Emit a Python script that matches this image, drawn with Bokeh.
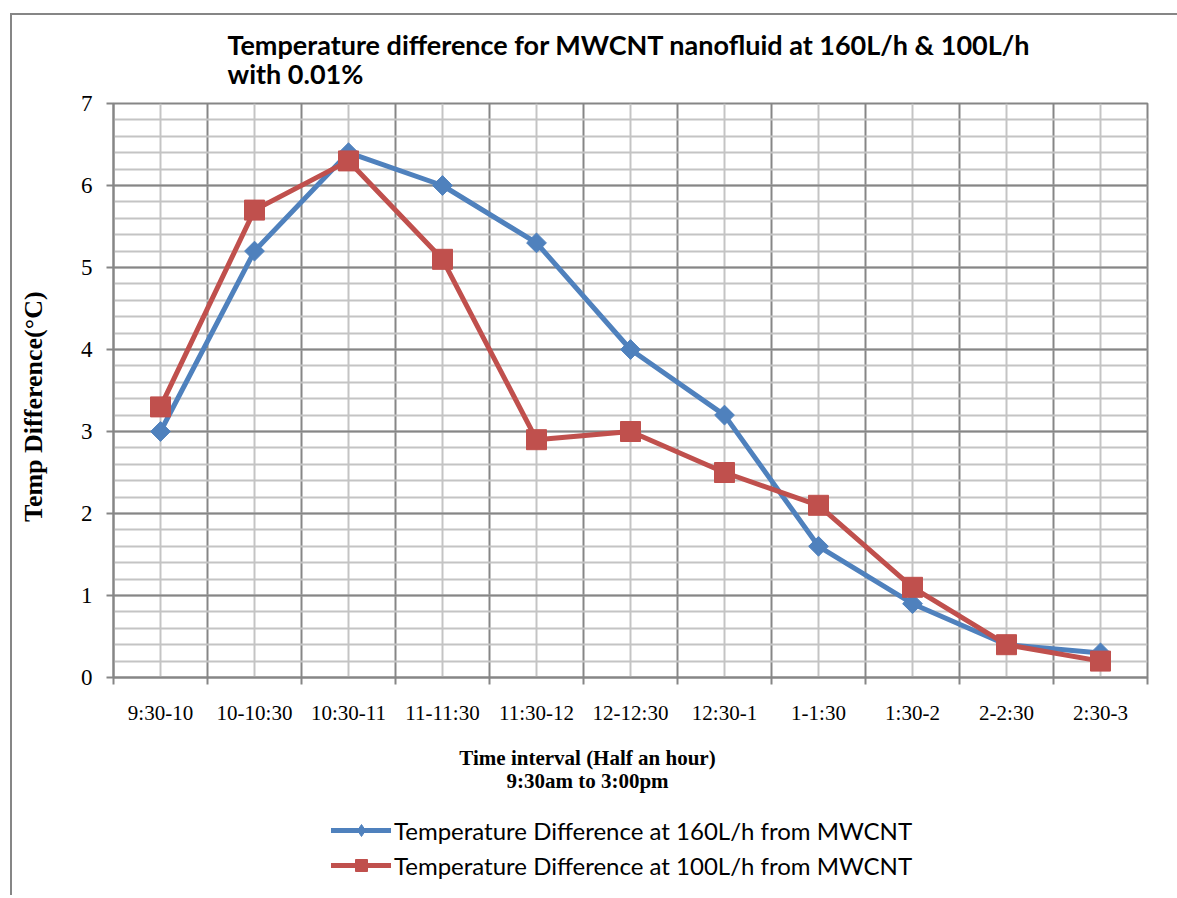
from bokeh.plotting import figure
from bokeh.models import FixedTicker, Legend, LegendItem, Range1d, Label
from bokeh.layouts import column
from bokeh.embed import file_html
from bokeh.resources import INLINE
import numpy as np

categories = ["9:30-10", "10-10:30", "10:30-11", "11-11:30", "11:30-12", "12-12:30",
              "12:30-1", "1-1:30", "1:30-2", "2-2:30", "2:30-3"]
flow160 = [3.0, 5.2, 6.4, 6.0, 5.3, 4.0, 3.2, 1.6, 0.9, 0.4, 0.3]
flow100 = [3.3, 5.7, 6.3, 5.1, 2.9, 3.0, 2.5, 2.1, 1.1, 0.4, 0.2]
y_ticks = [0, 1, 2, 3, 4, 5, 6, 7]
labels = ["Temperature Difference at 160L/h from MWCNT", "Temperature Difference at 100L/h from MWCNT"]
title_lines = ["Temperature difference for MWCNT nanofluid at 160L/h & 100L/h", "with 0.01%"]
xtitle_lines = ["Time interval (Half an hour)", "9:30am to 3:00pm"]
ytitle = "Temp Difference(°C)"

BLUE = "#4F81BD"
RED = "#C0504D"
MAJOR = "#868686"
MINOR = "#C4C4C4"

n = len(categories)
xc = [i + 0.5 for i in range(n)]


def blank(height):
    f = figure(width=1165, height=height, output_backend="svg", toolbar_location=None,
               x_range=Range1d(1000, 1001), y_range=Range1d(1000, 1001),
               min_border_left=0, min_border_right=0, min_border_top=0, min_border_bottom=0)
    f.axis.visible = False
    f.grid.visible = False
    f.outline_line_color = None
    return f


# ---- title strip ----
tp = blank(75)
for txt, yy in zip(title_lines, [46, 17]):
    tp.add_layout(Label(x=114, y=yy, x_units="screen", y_units="screen", text=txt,
                        text_font="Lato", text_font_style="bold", text_font_size="27px",
                        text_color="black", text_baseline="middle", text_align="left"))

# ---- main chart ----
p = figure(width=1165, height=637, output_backend="svg", toolbar_location=None,
           x_range=Range1d(0, n), y_range=Range1d(0, 7),
           min_border_left=101, min_border_right=30, min_border_top=13, min_border_bottom=50)
p.outline_line_color = MAJOR
p.outline_line_width = 2

p.xaxis.ticker = FixedTicker(ticks=xc, minor_ticks=list(range(n + 1)))
p.xaxis.major_label_overrides = {x: c for x, c in zip(xc, categories)}
p.xaxis.major_tick_out = 0
p.xaxis.major_tick_in = 0
p.xaxis.minor_tick_out = 7
p.xaxis.minor_tick_in = 0
p.xaxis.minor_tick_line_color = MAJOR
p.xaxis.minor_tick_line_width = 2
p.xaxis.axis_line_color = MAJOR
p.xaxis.axis_line_width = 2
p.xaxis.major_label_text_font = "Liberation Serif"
p.xaxis.major_label_text_font_size = "21px"
p.xaxis.major_label_text_color = "black"
p.xaxis.major_label_standoff = 16

p.yaxis.ticker = FixedTicker(ticks=y_ticks, minor_ticks=list(np.round(np.arange(0, 7.01, 0.2), 2)))
p.yaxis.major_tick_out = 7
p.yaxis.major_tick_in = 0
p.yaxis.minor_tick_out = 0
p.yaxis.minor_tick_in = 0
p.yaxis.major_tick_line_color = MAJOR
p.yaxis.major_tick_line_width = 2
p.yaxis.axis_line_color = MAJOR
p.yaxis.axis_line_width = 2
p.yaxis.major_label_text_font = "Liberation Serif"
p.yaxis.major_label_text_font_size = "23px"
p.yaxis.major_label_text_color = "black"
p.yaxis.major_label_standoff = 14
# trailing no-break spaces shift the visible title slightly below centre, as in the reference
p.yaxis.axis_label = ytitle + "\u00a0" * 5
p.yaxis.axis_label_text_font = "Liberation Serif"
p.yaxis.axis_label_text_font_style = "bold"
p.yaxis.axis_label_text_font_size = "26px"
p.yaxis.axis_label_standoff = 30
p.yaxis.axis_label_text_color = "black"

p.xgrid.grid_line_color = MINOR
p.xgrid.grid_line_width = 2
p.xgrid.minor_grid_line_color = MAJOR
p.xgrid.minor_grid_line_width = 2
p.ygrid.grid_line_color = MAJOR
p.ygrid.grid_line_width = 2
p.ygrid.minor_grid_line_color = MINOR
p.ygrid.minor_grid_line_width = 2

p.line(xc, flow160, line_color=BLUE, line_width=5)
p.scatter(xc, flow160, marker="square", angle=np.pi / 4, size=14, fill_color=BLUE, line_color=BLUE)
p.line(xc, flow100, line_color=RED, line_width=5)
p.scatter(xc, flow100, marker="square", size=20, fill_color=RED, line_color=RED)

# ---- x-axis title and legend strip ----
lp = blank(168)
for txt, yy in zip(xtitle_lines, [138, 115]):
    lp.add_layout(Label(x=474, y=yy, x_units="screen", y_units="screen", text=txt,
                        text_font="Liberation Serif", text_font_style="bold", text_font_size="21px",
                        text_color="black", text_baseline="middle", text_align="center"))

# legend glyphs lie outside this strip's visible range
a1 = lp.line(xc, flow160, line_color=BLUE, line_width=5, line_cap="round")
b1 = lp.scatter(xc, flow160, marker="diamond", size=19, fill_color=BLUE, line_color=BLUE)
a2 = lp.line(xc, flow100, line_color=RED, line_width=5, line_cap="round")
b2 = lp.scatter(xc, flow100, marker="square", size=17, fill_color=RED, line_color=RED)
lg = Legend(items=[LegendItem(label=labels[0], renderers=[a1, b1]),
                   LegendItem(label=labels[1], renderers=[a2, b2])],
            location=(218, 15), orientation="vertical")
lg.label_text_font = "Lato"
lg.label_text_font_size = "24px"
lg.label_text_color = "black"
lg.glyph_width = 60
lg.glyph_height = 30
lg.label_height = 30
lg.spacing = 5
lg.label_standoff = 3
lg.padding = 0
lg.margin = 0
lg.border_line_color = None
lg.background_fill_alpha = 0
lp.add_layout(lg, "center")

layout = column(tp, p, lp, spacing=0)
layout.styles = {"margin-left": "10px", "margin-top": "13px",
                 "border-left": "2px solid #868686", "border-top": "2px solid #868686"}

open("out.html", "w").write(file_html(layout, INLINE))
